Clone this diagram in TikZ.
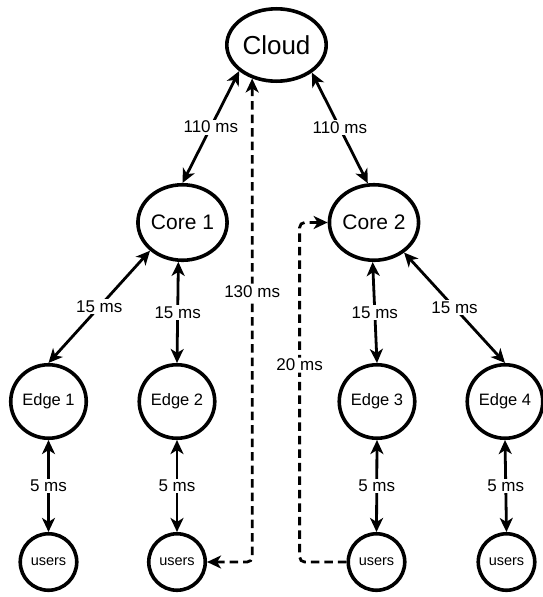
\documentclass[tikz,border=0pt]{standalone}
\usepackage{fontspec}
\setmainfont{Liberation Sans}
\usetikzlibrary{shapes.geometric,arrows.meta}
\begin{document}
\begin{tikzpicture}[x=1pt,y=-1pt,
  >={Stealth[length=14pt,width=13pt,inset=4pt]},
  nd/.style={ellipse,draw,line width=3.6pt,inner sep=0pt},
  cloudnode/.style={nd,minimum width=99.4pt,minimum height=72.4pt,font=\fontsize{26}{30}\selectfont},
  corenode/.style={nd,minimum width=87.5pt,minimum height=75.5pt,font=\fontsize{21}{25}\selectfont},
  edgenode/.style={nd,minimum width=75.5pt,minimum height=73.5pt,font=\fontsize{16.5}{20}\selectfont},
  usernode/.style={nd,minimum width=56.5pt,minimum height=56.5pt,font=\fontsize{14.5}{17}\selectfont},
  conn/.style={line width=2.8pt,<->},
  dashconn/.style={line width=2.8pt,dash pattern=on 8.5pt off 5pt,rounded corners=5pt},
  lbl/.style={fill=white,inner sep=1.5pt,font=\fontsize{17}{20}\selectfont}]
\useasboundingbox (0,0) rectangle (542,597);

\node[cloudnode] (cloud) at (276.5,45) {Cloud};
\node[corenode] (core1) at (182.5,222.5) {Core 1};
\node[corenode] (core2) at (374,222.5) {Core 2};
\node[edgenode] (edge1) at (48.5,401.5) {Edge 1};
\node[edgenode] (edge2) at (177,401.5) {Edge 2};
\node[edgenode] (edge3) at (377,401.5) {Edge 3};
\node[edgenode] (edge4) at (505,401.5) {Edge 4};
\node[usernode] (users1) at (48.5,562) {users};
\node[usernode] (users2) at (177,562) {users};
\node[usernode] (users3) at (376.5,562) {users};
\node[usernode] (users4) at (506.5,562) {users};

\draw[conn] (cloud.215) -- node[lbl]{110 ms} (core1.north);
\draw[conn] (cloud.322) -- node[lbl]{110 ms} (core2.99);
\draw[conn] (core1.221) -- node[lbl]{15 ms} (edge1.north);
\draw[conn] (core1.264) -- node[lbl]{15 ms} (edge2.north);
\draw[conn] (core2.268) -- node[lbl]{15 ms} (edge3.north);
\draw[conn] (core2.315) -- node[lbl]{15 ms} (edge4.north);
\draw[conn] (edge1.south) -- node[lbl]{5 ms} (users1.north);
\draw[conn] (edge2.south) -- node[lbl]{5 ms} (users2.north);
\draw[conn] (edge3.south) -- node[lbl]{5 ms} (users3.north);
\draw[conn] (edge4.south) -- node[lbl]{5 ms} (users4.north);

\draw[dashconn,<->] (users2.east) -| node[lbl,pos=0.78]{130 ms} (cloud.234);
\draw[dashconn,->] (users3.west) -| node[lbl,pos=0.79]{20 ms} ([xshift=-28pt]core2.west) -- (core2.west);
\end{tikzpicture}
\end{document}
